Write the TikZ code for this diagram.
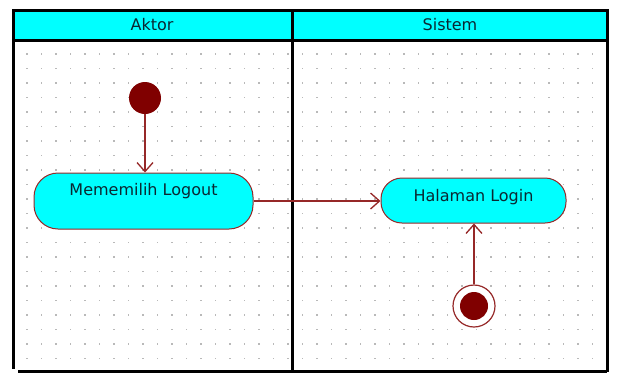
\documentclass[tikz,border=0pt]{standalone}
\usepackage{fontspec}
\setmainfont{DejaVu Sans}
\usetikzlibrary{arrows.meta}
\definecolor{lanecyan}{RGB}{0,255,255}
\definecolor{flowred}{RGB}{150,40,40}
\definecolor{nodered}{RGB}{128,0,0}
\definecolor{txt}{RGB}{10,40,50}
\definecolor{dotgray}{RGB}{185,185,185}
\tikzset{
  lanebox/.style={line width=3pt, draw=black},
  act/.style={draw=flowred, line width=1pt, fill=lanecyan, text=txt, font=\fontsize{16}{18}\selectfont, inner sep=0pt},
  flow/.style={draw=flowred, line width=1.3pt, -{Straight Barb[length=9pt,width=16pt,line width=1.3pt]}},
  startnode/.style={circle, fill=nodered, minimum size=32pt, inner sep=0pt},
  endouter/.style={circle, draw=flowred, line width=1.2pt, fill=white, minimum size=42pt, inner sep=0pt},
  endinner/.style={circle, fill=nodered, minimum size=28pt, inner sep=0pt},
  lanetitle/.style={text=txt, font=\fontsize{16}{18}\selectfont}
}
\begin{document}
\begin{tikzpicture}[x=1pt,y=-1pt]
\useasboundingbox (0,0) rectangle (618,376);
\fill[white] (0,0) rectangle (618,376);
% dotted grid
\begin{scope}
\clip (14,42) rectangle (605,370);
\foreach \i in {0,...,40}{
  \foreach \j in {0,...,22}{
    \fill[dotgray] ({27+14.5*\i-0.8},{54+14.5*\j-0.8}) rectangle ++(1.6,1.6);
  }
}
\end{scope}
% header
\fill[lanecyan] (13,10) rectangle (607,40);
\draw[lanebox] (13,10) -- (607,10);
\draw[lanebox] (13,40) -- (607,40);
\draw[lanebox] (13,9) -- (13,369);
\draw[lanebox] (607,9) -- (607,372);
\draw[lanebox] (18,371.5) -- (607,371.5);
\draw[lanebox] (292,9) -- (292,372);
\node[lanetitle] (l1) at (152,25) {Aktor};
\node[lanetitle] (l2) at (450,25) {Sistem};
% nodes
\node[startnode] (s) at (145,98) {};
\node[act, minimum width=219pt, minimum height=56pt, rounded corners=24pt, text height=12pt, text depth=23pt] (a1) at (143.5,201) {Mememilih Logout};
\node[act, minimum width=185pt, minimum height=45pt, rounded corners=21pt, text height=12pt, text depth=10pt] (a2) at (473.5,200.5) {Halaman Login};
\node[endouter] (e) at (474,306) {};
\node[endinner] (ei) at (e.center) {};
% flows
\draw[flow] (s) -- (s |- a1.north);
\draw[flow] (a1.east) -- (a1.east -| a2.west);
\draw[flow] (e) -- (e |- a2.south);
\end{tikzpicture}
\end{document}
